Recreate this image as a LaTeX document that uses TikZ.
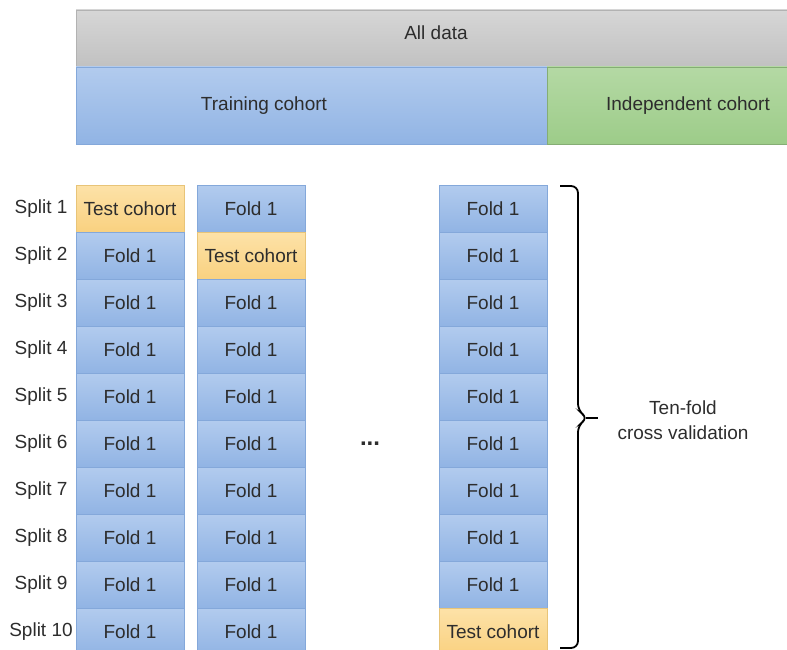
\documentclass[tikz,border=0pt]{standalone}
\usepackage{fontspec}
\setmainfont{Liberation Sans}
\usepackage{xcolor}
\definecolor{tgrayTop}{RGB}{214,214,214}
\definecolor{tgrayBot}{RGB}{193,193,193}
\definecolor{tblueTop}{RGB}{178,203,238}
\definecolor{tblueBot}{RGB}{145,180,228}
\definecolor{tblueLine}{RGB}{132,168,218}
\definecolor{tgreenTop}{RGB}{180,217,164}
\definecolor{tgreenBot}{RGB}{157,204,137}
\definecolor{torangeTop}{RGB}{253,226,168}
\definecolor{torangeBot}{RGB}{249,209,128}
\definecolor{torangeLine}{RGB}{232,196,120}
\definecolor{tdark}{RGB}{45,45,45}

\begin{document}
\begin{tikzpicture}[x=1pt,y=-1pt]
\tikzstyle{boxFold} = [
  shape=rectangle,
  minimum width=108pt,
  minimum height=47pt,
  inner sep=0pt,
  draw=tblueLine,
  line width=0.6,
  top color=tblueTop,
  bottom color=tblueBot,
  text=tdark,
  font=\fontsize{19}{22}\selectfont
]
\tikzstyle{boxTest} = [
  boxFold,
  draw=torangeLine,
  top color=torangeTop,
  bottom color=torangeBot
]
\tikzstyle{lbl} = [
  text=tdark,
  inner sep=0pt,
  font=\fontsize{19}{22}\selectfont
]

\useasboundingbox (0,0) rectangle (787,650);

% all data / cohorts
\node[shape=rectangle, minimum width=711pt, minimum height=57pt, inner sep=0pt,
  draw=black!30, line width=0.6, top color=tgrayTop, bottom color=tgrayBot]
  (all) at (431.5,38.5) {};
\node[shape=rectangle, minimum width=471pt, minimum height=77pt, inner sep=0pt,
  draw=tblueLine, line width=0.6, top color=tblueTop, bottom color=tblueBot]
  (train) at (311.5,105.5) {};
\node[shape=rectangle, minimum width=240pt, minimum height=77pt, inner sep=0pt,
  draw=tgreenBot!85!black, line width=0.6, top color=tgreenTop, bottom color=tgreenBot]
  (indep) at (667,105.5) {};
\node[lbl] (allText) at (436,33) {All data};
\node[lbl] (trainText) at (264,106) {Training cohort};
\node[lbl] (indepText) at (688,106) {Independent cohort};

% splits
\foreach \r in {1,...,10} {
  \pgfmathsetmacro\yy{208.5+47*(\r-1)}
  \node[lbl] (s\r) at (41,\yy) {Split \r};
  \ifnum\r=1
    \node[boxTest] (a\r) at (130,\yy) {Test cohort};
  \else
    \node[boxFold] (a\r) at (130,\yy) {Fold 1};
  \fi
  \ifnum\r=2
    \node[boxTest] (b\r) at (251,\yy) {Test cohort};
  \else
    \node[boxFold] (b\r) at (251,\yy) {Fold 1};
  \fi
  \ifnum\r=10
    \node[boxTest] (c\r) at (493,\yy) {Test cohort};
  \else
    \node[boxFold] (c\r) at (493,\yy) {Fold 1};
  \fi
}

\node[lbl, font=\fontsize{24}{24}\selectfont\bfseries] (dots) at (370,444) {...};

% brace
\coordinate (braceTop) at (560,186);
\coordinate (braceBot) at (560,648);
\draw[line width=1.8, rounded corners=7pt]
  (braceTop) -- (578,186) -- (578,411) -- (588,418) -- (578,425)
  -- (578,648) -- (braceBot);
\draw[line width=1.8] (586,418) -- (598,418);
\node[lbl, align=center] (cv) at (683,420) {Ten-fold\\[3pt]cross validation};

\end{tikzpicture}
\end{document}
